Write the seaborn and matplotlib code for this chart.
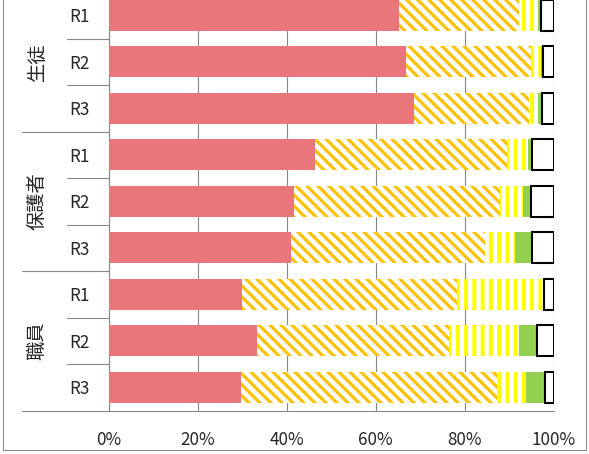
import matplotlib
matplotlib.use("Agg")
from matplotlib import pyplot as plt
from matplotlib.patches import Rectangle
import matplotlib.transforms as mtransforms
import pandas as pd
import seaborn as sns
import numpy as np

groups = ["生徒", "保護者", "職員"]
rounds = ["R1", "R2", "R3"]

# share of answers per row (percent), left to right
seg_red = [65.2, 66.7, 68.6, 46.4, 41.6, 40.9, 30.0, 33.3, 29.8]
seg_orange = [27.1, 28.3, 25.9, 43.0, 46.3, 43.7, 48.2, 43.2, 57.5]
seg_yellow = [4.2, 2.2, 2.0, 4.8, 5.3, 6.6, 19.6, 15.8, 6.5]
seg_green = [0.6, 0.4, 0.8, 0.9, 1.6, 3.9, 0.0, 3.9, 4.2]
seg_white = [2.9, 2.4, 2.7, 4.9, 5.2, 4.9, 2.2, 3.8, 2.0]

xticks = [0, 20, 40, 60, 80, 100]

DPI = 198
sns.set_style("white")
plt.rcParams['font.family'] = ['Noto Sans CJK JP', 'DejaVu Sans']

rows = [g + r for g in groups for r in rounds]
df = pd.DataFrame({'row': rows, 'red': seg_red, 'orange': seg_orange,
                   'yellow': seg_yellow, 'green': seg_green, 'white': seg_white})
segs = ['red', 'orange', 'yellow', 'green', 'white']
lefts = df[segs].cumsum(axis=1) - df[segs]

styles = {
    'red': dict(color='#E8767A', linewidth=0),
    'orange': dict(color='white', edgecolor='#FFC000', hatch='\\' * 6, linewidth=0),
    'yellow': dict(color='white', edgecolor='#FFFF00', hatch='||||', linewidth=0),
    'green': dict(color='#92D050', linewidth=0),
    'white': dict(color='white', edgecolor='black', linewidth=0.75),
}
hatch_lw = {'orange': 1.15, 'yellow': 1.45}

fig = plt.figure(figsize=(589 / DPI, 454 / DPI), dpi=DPI)
ax = fig.add_axes([0.1846, 0.0958, 0.7555, 0.9218])

for s in segs:
    with plt.rc_context({'hatch.linewidth': hatch_lw.get(s, 1.0)}):
        sns.barplot(data=df, x=s, y='row', orient='h', left=lefts[s].values,
                    width=0.667, errorbar=None, saturation=1, ax=ax, zorder=3,
                    **styles[s])

ax.set_xlim(0, 100)
ax.set_ylim(8.5, -0.5)
ax.set_xticks(xticks)
ax.set_xticklabels([f"{t}%" for t in xticks], fontsize=6.2)
ax.set_xlabel("")
ax.set_ylabel("")
ax.set_yticks(range(9))
ax.set_yticklabels(rounds * 3, fontsize=6.2)
ax.tick_params(axis='y', length=0, pad=7.0)
ax.tick_params(axis='x', length=2.2, width=0.4, color='#878787', direction='out', pad=5.3)
ax.grid(axis='x', color='#878787', linewidth=0.4, zorder=0)
ax.set_axisbelow(True)
for side in ['top', 'right']:
    ax.spines[side].set_visible(False)
for side in ['left', 'bottom']:
    ax.spines[side].set_color('#878787')
    ax.spines[side].set_linewidth(0.4)

# multi-level category axis lines
trans = mtransforms.blended_transform_factory(ax.transAxes, ax.transData)
for k in range(-1, 9):
    y = k + 0.5
    x0 = -0.1948 if k in (-1, 2, 5, 8) else -0.0937
    ax.plot([x0, 0], [y, y], transform=trans, color='#878787', linewidth=0.4,
            clip_on=False)
for i, g in enumerate(groups):
    ax.text(-0.161, 3 * i + 1, g, transform=trans, rotation=90, fontsize=7.0,
            ha='center', va='center')

fig.patches.append(Rectangle((3 / 589, 4 / 454), 583 / 589, 1.0, transform=fig.transFigure,
                             fill=False, edgecolor='#8c8c8c', linewidth=0.4))

fig.savefig('out.png', dpi=DPI)
plt.close()
